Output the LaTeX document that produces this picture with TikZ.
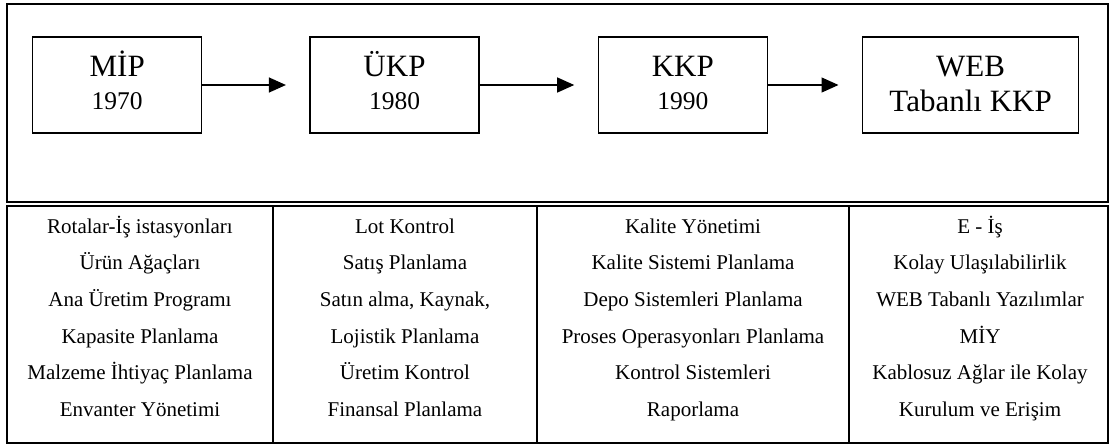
\documentclass[tikz,border=0pt]{standalone}
\usepackage{fontspec}
\setmainfont{Liberation Serif}
\usetikzlibrary{arrows.meta}
\begin{document}
\begin{tikzpicture}[x=1pt,y=-1pt,
  frameline/.style={line width=2pt},
  erabox/.style={draw, line width=1.2pt, minimum width=169pt, minimum height=96pt, inner sep=0pt},
  flow/.style={line width=1.3pt, -{Triangle[length=17pt,width=15pt]}, shorten >=23.5pt},
  nametext/.style={anchor=base, inner sep=0pt, font=\fontsize{31}{33}\selectfont},
  yeartext/.style={anchor=base, inner sep=0pt, font=\fontsize{25.5}{30}\selectfont},
  celltext/.style={anchor=base, inner sep=0pt, font=\fontsize{21}{25}\selectfont}]
\useasboundingbox (0,0) rectangle (1111,444);

% upper panel and lower table
\draw[frameline] (7,4.3) rectangle (1108,202);
\draw[frameline] (7,206) rectangle (1108,442.5);
\foreach \cx in {273,537,849}
  \draw[frameline] (\cx,206) -- (\cx,442.5);

% era boxes
\node[erabox] (mip) at (117.2,85) {};
\node[erabox] (ukp) at (394.5,85) {};
\node[erabox] (kkp) at (682.8,85) {};
\node[erabox, minimum width=216pt] (web) at (970.6,85) {};

\node[nametext] (mipname) at (117.2,77) {MİP};
\node[yeartext] (mipyear) at (117.2,110) {1970};
\node[nametext] (ukpname) at (394.5,77) {ÜKP};
\node[yeartext] (ukpyear) at (394.5,110) {1980};
\node[nametext] (kkpname) at (682.8,77) {KKP};
\node[yeartext] (kkpyear) at (682.8,110) {1990};
\node[nametext] (webname) at (970.6,77) {WEB};
\node[nametext] (webbase) at (970.6,111) {Tabanlı KKP};

% flow between eras
\draw[flow] (mip.east) -- (ukp.west);
\draw[flow] (ukp.east) -- (kkp.west);
\draw[flow] (kkp.east) -- (web.west);

% table contents, one column at a time
\foreach \txt [count=\i] in {Rotalar-İş istasyonları, Ürün Ağaçları, Ana Üretim Programı,
    Kapasite Planlama, Malzeme İhtiyaç Planlama, Envanter Yönetimi}
  \node[celltext] (ca\i) at (140,{233+36.7*(\i-1)}) {\txt};
\foreach \txt [count=\i] in {Lot Kontrol, Satış Planlama, {Satın alma, Kaynak,},
    Lojistik Planlama, Üretim Kontrol, Finansal Planlama}
  \node[celltext] (cb\i) at (405,{233+36.7*(\i-1)}) {\txt};
\foreach \txt [count=\i] in {Kalite Yönetimi, Kalite Sistemi Planlama, Depo Sistemleri Planlama,
    Proses Operasyonları Planlama, Kontrol Sistemleri, Raporlama}
  \node[celltext] (cc\i) at (693,{233+36.7*(\i-1)}) {\txt};
\foreach \txt [count=\i] in {E - İş, Kolay Ulaşılabilirlik, WEB Tabanlı Yazılımlar,
    MİY, Kablosuz Ağlar ile Kolay, Kurulum ve Erişim}
  \node[celltext] (cd\i) at (980,{233+36.7*(\i-1)}) {\txt};
\end{tikzpicture}
\end{document}
